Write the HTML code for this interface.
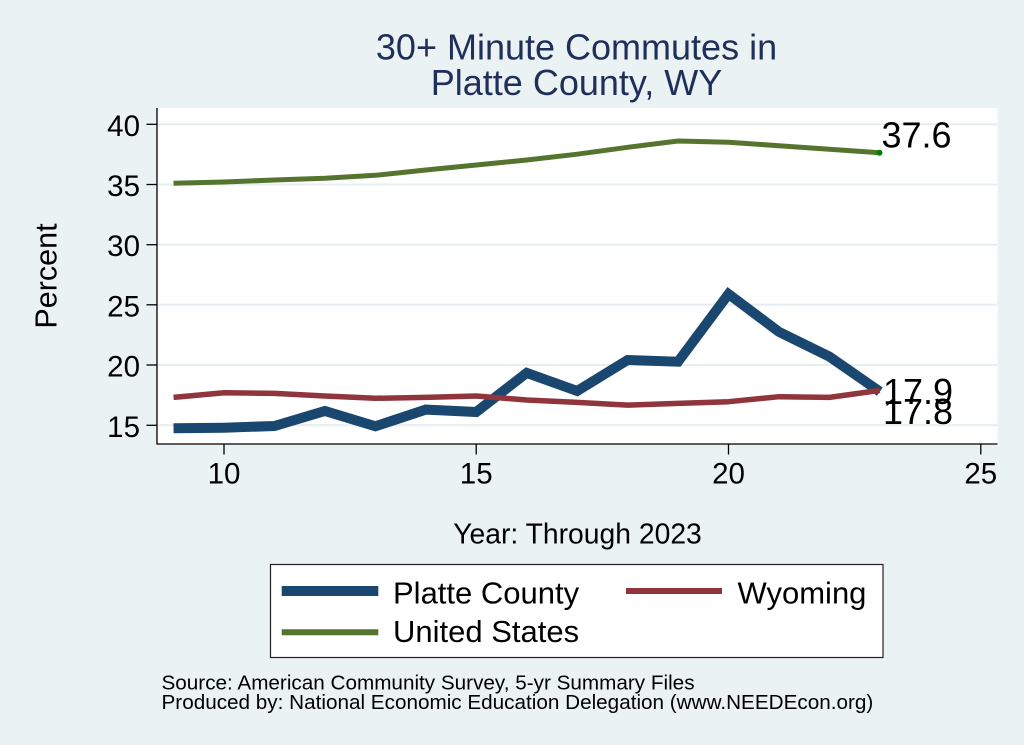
<!DOCTYPE html>
<html>
<head>
<meta charset="utf-8">
<style>
  html, body { margin: 0; padding: 0; background: #eaf2f3; }
  svg { display: block; }
  text { font-family: "Liberation Sans", Arial, Helvetica, sans-serif; }
</style>
</head>
<body>
<svg width="1024" height="745" viewBox="0 0 1024 745" xmlns="http://www.w3.org/2000/svg">
  <rect x="0" y="0" width="1024" height="745" fill="#eaf2f3"/>

  <!-- Title -->
  <text x="576.5" y="59.3" font-size="36" fill="#1f2f5a" text-anchor="middle">30+ Minute Commutes in</text>
  <text x="576.5" y="95" font-size="36" fill="#1f2f5a" text-anchor="middle">Platte County, WY</text>

  <!-- Plot region -->
  <rect x="157" y="108" width="840.5" height="336" fill="#ffffff"/>

  <!-- Gridlines -->
  <g stroke="#e6eef1" stroke-width="2">
    <line x1="158" y1="124.3" x2="997" y2="124.3"/>
    <line x1="158" y1="184.5" x2="997" y2="184.5"/>
    <line x1="158" y1="244.7" x2="997" y2="244.7"/>
    <line x1="158" y1="304.8" x2="997" y2="304.8"/>
    <line x1="158" y1="365" x2="997" y2="365"/>
    <line x1="158" y1="425.3" x2="997" y2="425.3"/>
  </g>

  <!-- Axes -->
  <g stroke="#000" stroke-width="1.3" fill="none">
    <line x1="157" y1="108" x2="157" y2="444.5"/>
    <line x1="156.5" y1="444" x2="997.5" y2="444"/>
    <line x1="146.5" y1="124.3" x2="157" y2="124.3"/>
    <line x1="146.5" y1="184.5" x2="157" y2="184.5"/>
    <line x1="146.5" y1="244.7" x2="157" y2="244.7"/>
    <line x1="146.5" y1="304.8" x2="157" y2="304.8"/>
    <line x1="146.5" y1="365" x2="157" y2="365"/>
    <line x1="146.5" y1="425.3" x2="157" y2="425.3"/>
    <line x1="224" y1="444" x2="224" y2="454.5"/>
    <line x1="476.2" y1="444" x2="476.2" y2="454.5"/>
    <line x1="728.5" y1="444" x2="728.5" y2="454.5"/>
    <line x1="980.8" y1="444" x2="980.8" y2="454.5"/>
  </g>

  <!-- Y tick labels -->
  <g font-size="29.5" fill="#000" text-anchor="end">
    <text x="140" y="135.8">40</text>
    <text x="140" y="196">35</text>
    <text x="140" y="256.2">30</text>
    <text x="140" y="316.3">25</text>
    <text x="140" y="376.5">20</text>
    <text x="140" y="436.8">15</text>
  </g>

  <!-- X tick labels -->
  <g font-size="29.5" fill="#000" text-anchor="middle">
    <text x="224" y="483.3">10</text>
    <text x="476.2" y="483.3">15</text>
    <text x="728.5" y="483.3">20</text>
    <text x="980.8" y="483.3">25</text>
  </g>

  <!-- Axis titles -->
  <text transform="translate(56.5,276) rotate(-90)" font-size="30.5" fill="#000" text-anchor="middle">Percent</text>
  <text x="577.5" y="543.5" font-size="28.3" fill="#000" text-anchor="middle">Year: Through 2023</text>

  <!-- Series: United States -->
  <polyline fill="none" stroke="#55752f" stroke-width="5" stroke-linejoin="round"
    points="173.55,183.3 224,182 274.45,180 324.9,178.3 375.35,175.3 425.8,170 476.25,165 526.7,160 577.15,154.2 627.6,147.3 678.05,141 728.5,142.3 778.95,145.7 829.4,149.3 879.85,152.7"/>
  <circle cx="879.5" cy="152.7" r="3" fill="#008000"/>

  <!-- Series: Platte County -->
  <polyline fill="none" stroke="#1a476f" stroke-width="10" stroke-linejoin="miter"
    points="173.55,428.3 224,427.7 274.45,426 324.9,411 375.35,426.3 425.8,409.6 476.25,412 526.7,372.9 577.15,391 627.6,360 678.05,361.7 728.5,294 778.95,331.9 829.4,356.6 879.85,391.6"/>

  <!-- Series: Wyoming -->
  <polyline fill="none" stroke="#90353b" stroke-width="5.5" stroke-linejoin="round"
    points="173.55,397.4 224,392.8 274.45,393.4 324.9,396 375.35,398.3 425.8,397.4 476.25,396 526.7,400 577.15,402.4 627.6,405.1 678.05,403.4 728.5,401.7 778.95,396.7 829.4,397.4 879.85,390.4"/>

  <!-- Data labels -->
  <g font-size="36" fill="#000">
    <text x="881.5" y="147.5">37.6</text>
    <text x="883" y="404">17.9</text>
    <text x="883" y="424">17.8</text>
  </g>

  <!-- Legend -->
  <rect x="270.5" y="564.5" width="612.5" height="93" fill="#ffffff" stroke="#222" stroke-width="1.2"/>
  <line x1="281.7" y1="591" x2="378.3" y2="591" stroke="#1a476f" stroke-width="10"/>
  <line x1="626" y1="591" x2="722" y2="591" stroke="#90353b" stroke-width="6"/>
  <line x1="281.7" y1="632.3" x2="378.3" y2="632.3" stroke="#55752f" stroke-width="6"/>
  <g font-size="31" fill="#000">
    <text x="393" y="603.5">Platte County</text>
    <text x="737.5" y="603.5">Wyoming</text>
    <text x="393" y="642">United States</text>
  </g>

  <!-- Footer -->
  <g font-size="20.7" fill="#000">
    <text x="161.5" y="689.5">Source: American Community Survey, 5-yr Summary Files</text>
    <text x="161.5" y="709">Produced by: National Economic Education Delegation (www.NEEDEcon.org)</text>
  </g>
</svg>
</body>
</html>
